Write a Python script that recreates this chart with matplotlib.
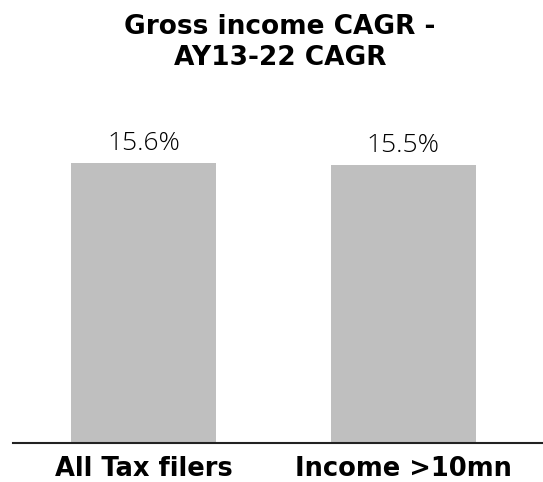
import matplotlib
matplotlib.use("Agg")
import matplotlib.pyplot as plt

categories = ["All Tax filers", "Income >10mn"]
cagr = [15.6, 15.5]
value_labels = ["15.6%", "15.5%"]
title = "Gross income CAGR -\nAY13-22 CAGR"

W, H = 543, 482
fig = plt.figure(figsize=(W / 100, H / 100), dpi=100)
# axes: baseline at y≈443 px, spans from x=13 to the right edge
left, right = 13, 543
bottom, top = 443, 100
ax = fig.add_axes([left / W, 1 - bottom / H, (right - left) / W, (bottom - top) / H])

x = [0, 1]
ax.bar(x, cagr, width=0.558, color="#bfbfbf")
ax.set_xlim(-0.502, 1.537)
ax.set_ylim(0, (bottom - top) / 17.93)

for xi, v, lab in zip(x, cagr, value_labels):
    ax.text(xi, v + 0.42, lab, ha="center", va="bottom", fontsize=19,
            family="Open Sans", fontweight="light", color="#000000")

ax.set_xticks(x)
ax.set_xticklabels(categories, fontsize=18.5, fontweight="bold", family="DejaVu Sans")
ax.tick_params(axis="x", length=0, pad=9)
ax.set_yticks([])
for s in ["top", "right", "left"]:
    ax.spines[s].set_visible(False)
ax.spines["bottom"].set_linewidth(1.5)
ax.spines["bottom"].set_color("#222222")

fig.text(280 / W, 1 - 14 / H, title, ha="center", va="top", fontsize=19,
         fontweight="bold", family="DejaVu Sans", linespacing=1.24)

fig.savefig("out.png", dpi=100)
